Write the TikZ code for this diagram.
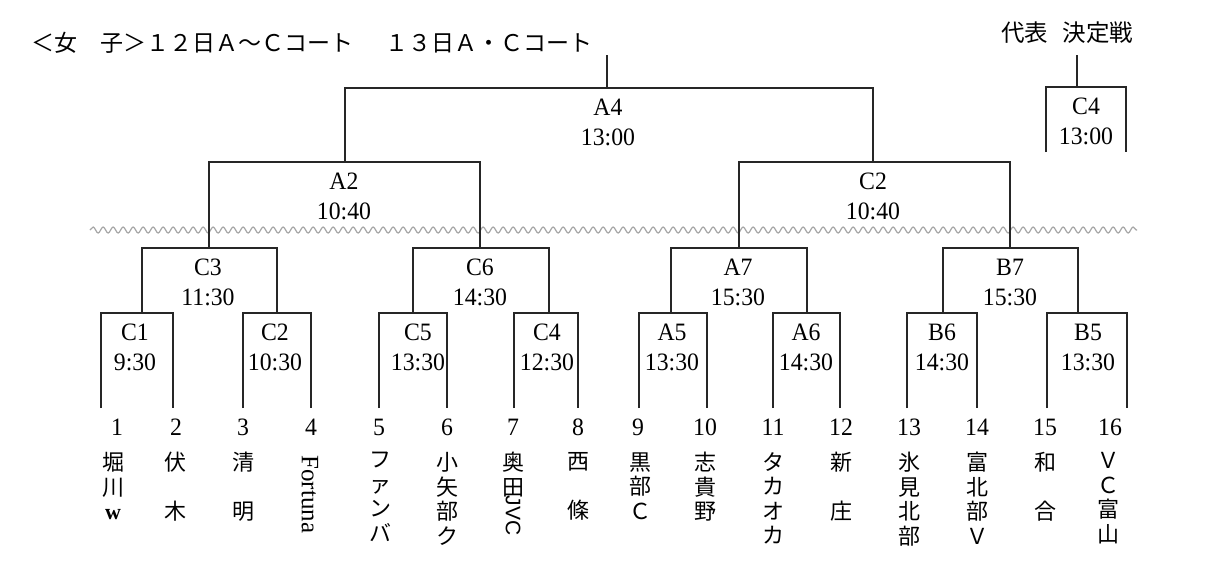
\documentclass[tikz,border=0pt]{standalone}
\usepackage{fontspec}
\usepackage{graphicx}
\usetikzlibrary{decorations.pathmorphing}
\setmainfont{Liberation Serif}
\newfontfamily\jpf{Noto Sans CJK JP}
\newfontfamily\labf[FakeStretch=0.95]{Liberation Serif}
\newfontfamily\sansf{Liberation Sans}
\begin{document}
\begin{tikzpicture}[x=0.5pt,y=-0.5pt,
  br/.style={draw=black!85, line width=1pt},
  lab/.style={font=\labf\fontsize{12.5}{15}\selectfont, align=center, inner sep=0pt},
  num/.style={font=\labf\fontsize{12.5}{15}\selectfont, inner sep=0pt},
  nm/.style={font=\jpf\fontsize{11}{12.25}\selectfont, align=center, inner sep=0pt, anchor=north},
  ttl/.style={font=\jpf\fontsize{11.5}{14}\selectfont, inner sep=0pt, anchor=west},
  wave/.style={draw=black!35, line width=0.6pt, decorate, decoration={snake, segment length=5pt, amplitude=1.5pt}}]
\fill[white] (0,0) rectangle (1213,570);
\useasboundingbox (0,0) rectangle (1213,570);

% titles
\node[ttl] (title) at (31,43) {＜女　子＞１２日Ａ～Ｃコート\hspace{1.4em}１３日Ａ・Ｃコート};
\node[ttl, font=\jpf\fontsize{11.75}{14}\selectfont] (rep) at (1001,33) {代表\hspace{0.6em}決定戦};

% leaves
\coordinate (L1) at (101,408);  \coordinate (L2) at (173,408);
\coordinate (L3) at (243,408);  \coordinate (L4) at (311,408);
\coordinate (L5) at (379,408);  \coordinate (L6) at (447,408);
\coordinate (L7) at (514,408);  \coordinate (L8) at (578,408);
\coordinate (L9) at (639,408);  \coordinate (L10) at (707,408);
\coordinate (L11) at (773,408); \coordinate (L12) at (840,408);
\coordinate (L13) at (907,408); \coordinate (L14) at (977,408);
\coordinate (L15) at (1047,408); \coordinate (L16) at (1127,408);

% matches
\coordinate (mC1) at (142,313);  \coordinate (mC2a) at (277,313);
\coordinate (mC5) at (413,313);  \coordinate (mC4) at (549,313);
\coordinate (mA5) at (671,313);  \coordinate (mA6) at (807,313);
\coordinate (mB6) at (943,313);  \coordinate (mB5) at (1078,313);
\coordinate (mC3) at (209,248);  \coordinate (mC6) at (480,248);
\coordinate (mA7) at (739,248);  \coordinate (mB7) at (1010,248);
\coordinate (mA2) at (345,162);  \coordinate (mC2b) at (873,162);
\coordinate (mA4) at (607,88);   \coordinate (sA4) at (607,55);
\coordinate (mSC4) at (1077,87); \coordinate (sSC4) at (1077,55);
\coordinate (sl) at (1046,152);  \coordinate (sr) at (1126,152);

% wavy line
\coordinate (wl) at (90,230); \coordinate (wr) at (1137,230);
\draw[wave] (wl) -- (wr);

% brackets
\draw[br] (L1) |- (mC1) -| (L2);
\draw[br] (L3) |- (mC2a) -| (L4);
\draw[br] (L5) |- (mC5) -| (L6);
\draw[br] (L7) |- (mC4) -| (L8);
\draw[br] (L9) |- (mA5) -| (L10);
\draw[br] (L11) |- (mA6) -| (L12);
\draw[br] (L13) |- (mB6) -| (L14);
\draw[br] (L15) |- (mB5) -| (L16);
\draw[br] (mC1) |- (mC3) -| (mC2a);
\draw[br] (mC5) |- (mC6) -| (mC4);
\draw[br] (mA5) |- (mA7) -| (mA6);
\draw[br] (mB6) |- (mB7) -| (mB5);
\draw[br] (mC3) |- (mA2) -| (mC6);
\draw[br] (mA7) |- (mC2b) -| (mB7);
\draw[br] (mA2) |- (mA4) -| (mC2b);
\draw[br] (mA4) -- (sA4);
\draw[br] (sl) |- (mSC4) -| (sr);
\draw[br] (mSC4) -- (sSC4);

% match labels
\node[lab] (tA4) at (608,122) {A4\\13:00};
\node[lab] (tSC4) at (1086,121) {C4\\13:00};
\node[lab] (tA2) at (344,196) {A2\\10:40};
\node[lab] (tC2b) at (873,196) {C2\\10:40};
\node[lab] (tC3) at (208,282) {C3\\11:30};
\node[lab] (tC6) at (480,282) {C6\\14:30};
\node[lab] (tA7) at (738,282) {A7\\15:30};
\node[lab] (tB7) at (1010,282) {B7\\15:30};
\node[lab] (tC1) at (135,347) {C1\\9:30};
\node[lab] (tC2a) at (275,347) {C2\\10:30};
\node[lab] (tC5) at (418,347) {C5\\13:30};
\node[lab] (tC4) at (547,347) {C4\\12:30};
\node[lab] (tA5) at (672,347) {A5\\13:30};
\node[lab] (tA6) at (806,347) {A6\\14:30};
\node[lab] (tB6) at (942,347) {B6\\14:30};
\node[lab] (tB5) at (1088,347) {B5\\13:30};

% numbers
\node[num] (n1) at (117,427) {1};
\node[num] (n2) at (176,427) {2};
\node[num] (n3) at (243,427) {3};
\node[num] (n4) at (311,427) {4};
\node[num] (n5) at (379,427) {5};
\node[num] (n6) at (447,427) {6};
\node[num] (n7) at (513,427) {7};
\node[num] (n8) at (578,427) {8};
\node[num] (n9) at (638,427) {9};
\node[num] (n10) at (705,427) {10};
\node[num] (n11) at (773,427) {11};
\node[num] (n12) at (841,427) {12};
\node[num] (n13) at (909,427) {13};
\node[num] (n14) at (977,427) {14};
\node[num] (n15) at (1045,427) {15};
\node[num] (n16) at (1110,427) {16};

% team names
\node[nm] (t1) at (113,452) {堀\\川\\{\rmfamily\bfseries w}};
\node[nm] (t2) at (175,452) {伏\\　\\木};
\node[nm] (t3) at (243,452) {清\\　\\明};
\node[nm] (t4) at (310,455) {\rotatebox{-90}{\rmfamily\fontsize{12.5}{15}\selectfont Fortuna}};
\node[nm] (t5) at (380,452) {フ\\ァ\\ン\\バ};
\node[nm] (t6) at (447,452) {小\\矢\\部\\ク};
\node[nm] (t7) at (513,452) {奥\\田\\[-12pt]\rotatebox{-90}{\sansf\fontsize{10.5}{12}\selectfont JVC}};
\node[nm] (t8) at (578,452) {西\\　\\條};
\node[nm] (t9) at (640,452) {黒\\部\\Ｃ};
\node[nm] (t10) at (705,452) {志\\貴\\野};
\node[nm] (t11) at (773,452) {タ\\カ\\オ\\カ};
\node[nm] (t12) at (841,452) {新\\　\\庄};
\node[nm] (t13) at (909,452) {氷\\見\\北\\部};
\node[nm] (t14) at (977,452) {富\\北\\部\\Ｖ};
\node[nm] (t15) at (1045,452) {和\\　\\合};
\node[nm] (t16) at (1108,452) {Ｖ\\Ｃ\\富\\山};
\end{tikzpicture}
\end{document}
